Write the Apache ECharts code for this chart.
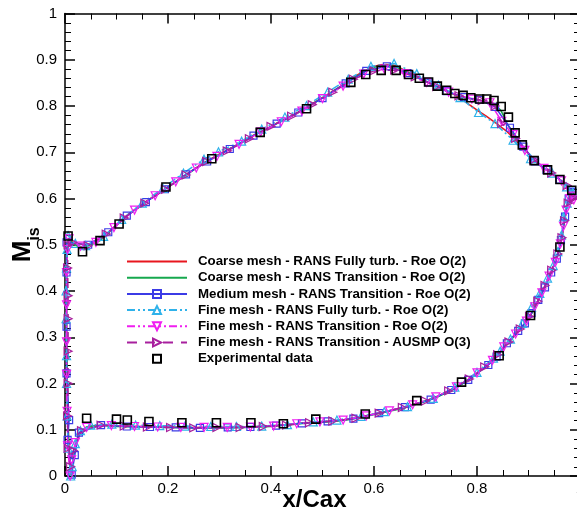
<!DOCTYPE html>
<html><head><meta charset="utf-8">
<script src="https://cdn.jsdelivr.net/npm/echarts@6/dist/echarts.min.js"></script>
<style>html,body{margin:0;padding:0;background:#fff}#c{width:577px;height:518px}</style>
</head><body><div id="c"></div>
<script>
const seriesNames = [
  'Coarse mesh - RANS Fully turb. - Roe O(2)',
  'Coarse mesh - RANS Transition - Roe O(2)',
  'Medium mesh - RANS Transition - Roe O(2)',
  'Fine mesh - RANS Fully turb. - Roe O(2)',
  'Fine mesh - RANS Transition - Roe O(2)',
  'Fine mesh - RANS Transition - AUSMP O(3)',
  'Experimental data'
];
const xTicks = [0, 0.2, 0.4, 0.6, 0.8, 1];
const yTicks = [0, 0.1, 0.2, 0.3, 0.4, 0.5, 0.6, 0.7, 0.8, 0.9, 1];

const coarseFullyTurb = [
[0.986,0.615],[0.981,0.607],[0.975,0.588],[0.971,0.560],[0.966,0.526],[0.961,0.497],[0.953,0.468],[0.945,0.443],[0.937,0.423],[0.928,0.401],[0.918,0.378],[0.906,0.352],[0.893,0.330],[0.880,0.313],[0.865,0.294],[0.850,0.275],[0.835,0.256],[0.820,0.240],[0.800,0.222],[0.783,0.208],[0.760,0.192],[0.740,0.181],[0.720,0.170],[0.696,0.161],[0.670,0.152],[0.650,0.146],[0.625,0.140],[0.605,0.135],[0.580,0.129],[0.553,0.123],[0.530,0.120],[0.508,0.118],[0.480,0.116],[0.456,0.114],[0.430,0.111],[0.400,0.108],[0.350,0.106],[0.300,0.105],[0.250,0.105],[0.200,0.106],[0.150,0.107],[0.100,0.108],[0.070,0.110],[0.050,0.108],[0.042,0.106],[0.034,0.100],[0.027,0.092],[0.022,0.075],[0.018,0.050],[0.015,0.025],[0.012,0.000],
[0.009,0.040],[0.007,0.080],[0.005,0.150],[0.004,0.220],[0.003,0.300],[0.003,0.380],[0.003,0.440],[0.004,0.480],[0.006,0.512],
[0.010,0.510],[0.018,0.502],[0.029,0.495],[0.040,0.497],[0.055,0.503],[0.068,0.510],[0.085,0.527],[0.104,0.547],[0.120,0.563],[0.140,0.580],[0.157,0.593],[0.175,0.607],[0.194,0.621],[0.220,0.640],[0.245,0.659],[0.269,0.677],[0.295,0.693],[0.320,0.708],[0.345,0.723],[0.366,0.737],[0.390,0.750],[0.411,0.763],[0.432,0.774],[0.453,0.787],[0.470,0.798],[0.489,0.811],[0.510,0.825],[0.534,0.842],[0.550,0.854],[0.566,0.866],[0.583,0.877],[0.599,0.885],[0.612,0.889],[0.625,0.890],[0.638,0.888],[0.650,0.883],[0.663,0.875],[0.676,0.867],[0.690,0.859],[0.706,0.851],[0.723,0.842],[0.741,0.832],[0.755,0.825],[0.767,0.817],[0.785,0.803],[0.803,0.789],[0.818,0.778],[0.832,0.767],[0.845,0.756],[0.858,0.745],[0.868,0.734],[0.877,0.724],[0.890,0.710],[0.902,0.694],[0.913,0.680],[0.924,0.670],[0.935,0.662],[0.948,0.652],[0.961,0.641],[0.973,0.630],[0.984,0.617],[0.988,0.610]
];

const coarseTransition = [
[0.986,0.613],[0.981,0.605],[0.975,0.586],[0.971,0.559],[0.966,0.524],[0.961,0.495],[0.953,0.466],[0.945,0.442],[0.937,0.421],[0.928,0.400],[0.918,0.377],[0.906,0.351],[0.893,0.329],[0.880,0.312],[0.865,0.293],[0.850,0.274],[0.835,0.255],[0.820,0.239],[0.800,0.221],[0.783,0.207],[0.760,0.191],[0.740,0.180],[0.720,0.169],[0.696,0.160],[0.670,0.151],[0.650,0.145],[0.625,0.139],[0.605,0.134],[0.580,0.128],[0.553,0.122],[0.530,0.119],[0.508,0.117],[0.480,0.115],[0.456,0.113],[0.430,0.110],[0.400,0.107],[0.350,0.105],[0.300,0.104],[0.250,0.104],[0.200,0.105],[0.150,0.106],[0.100,0.107],[0.070,0.109],[0.050,0.107],[0.042,0.105],[0.034,0.099],[0.027,0.091],[0.022,0.074],[0.018,0.049],[0.015,0.024],[0.012,0.000],
[0.009,0.040],[0.007,0.080],[0.005,0.150],[0.004,0.220],[0.003,0.300],[0.003,0.380],[0.003,0.440],[0.004,0.480],[0.006,0.512],
[0.010,0.509],[0.018,0.501],[0.029,0.494],[0.040,0.496],[0.055,0.502],[0.068,0.509],[0.085,0.526],[0.104,0.546],[0.120,0.562],[0.140,0.579],[0.157,0.592],[0.175,0.606],[0.194,0.620],[0.220,0.639],[0.245,0.658],[0.269,0.676],[0.295,0.692],[0.320,0.707],[0.345,0.722],[0.366,0.736],[0.390,0.749],[0.411,0.762],[0.432,0.773],[0.453,0.786],[0.470,0.797],[0.489,0.810],[0.510,0.824],[0.534,0.841],[0.550,0.852],[0.566,0.864],[0.583,0.875],[0.599,0.883],[0.612,0.887],[0.625,0.888],[0.638,0.886],[0.650,0.881],[0.663,0.874],[0.676,0.866],[0.690,0.858],[0.706,0.850],[0.723,0.841],[0.741,0.832],[0.755,0.826],[0.767,0.821],[0.785,0.816],[0.800,0.813],[0.815,0.810],[0.828,0.806],[0.838,0.800],[0.846,0.791],[0.852,0.778],[0.858,0.763],[0.867,0.745],[0.876,0.730],[0.883,0.720],[0.890,0.711],[0.902,0.694],[0.913,0.680],[0.924,0.670],[0.935,0.662],[0.948,0.652],[0.961,0.641],[0.973,0.630],[0.984,0.616],[0.988,0.609]
];

const mediumTransition = [
[0.985,0.614],[0.978,0.600],[0.971,0.561],[0.963,0.510],[0.955,0.470],[0.944,0.440],[0.932,0.408],[0.919,0.381],[0.906,0.352],[0.893,0.330],[0.880,0.314],[0.858,0.287],[0.838,0.258],[0.822,0.240],[0.783,0.208],[0.750,0.186],[0.710,0.165],[0.660,0.149],[0.610,0.136],[0.560,0.124],[0.510,0.118],[0.460,0.114],[0.410,0.109],[0.360,0.106],[0.316,0.105],[0.262,0.104],[0.215,0.105],[0.165,0.106],[0.120,0.107],[0.070,0.110],[0.027,0.094],[0.019,0.045],[0.013,0.003],
[0.005,0.078],[0.008,0.121],[0.003,0.222],[0.003,0.323],[0.003,0.440],[0.003,0.505],
[0.045,0.500],[0.084,0.527],[0.120,0.563],[0.157,0.592],[0.194,0.620],[0.235,0.652],[0.276,0.680],[0.320,0.707],[0.366,0.736],[0.411,0.762],[0.453,0.786],[0.500,0.817],[0.545,0.849],[0.585,0.876],[0.625,0.886],[0.665,0.871],[0.706,0.851],[0.741,0.832],[0.775,0.819],[0.805,0.813],[0.835,0.798],[0.864,0.753],[0.890,0.712],[0.913,0.680],[0.935,0.662],[0.961,0.641],[0.984,0.615]
];

const fineFullyTurb = [
[0.986,0.612],[0.975,0.590],[0.968,0.560],[0.964,0.521],[0.957,0.485],[0.948,0.455],[0.937,0.428],[0.922,0.395],[0.906,0.365],[0.888,0.330],[0.865,0.296],[0.845,0.270],[0.832,0.255],[0.800,0.224],[0.757,0.192],[0.715,0.168],[0.665,0.150],[0.620,0.139],[0.575,0.129],[0.528,0.121],[0.482,0.117],[0.432,0.111],[0.382,0.108],[0.333,0.107],[0.283,0.107],[0.233,0.108],[0.184,0.109],[0.137,0.110],[0.091,0.112],[0.050,0.110],[0.030,0.098],[0.020,0.070],[0.014,0.020],[0.011,0.000],
[0.006,0.060],[0.004,0.130],[0.003,0.200],[0.003,0.260],[0.002,0.340],[0.002,0.400],[0.003,0.450],[0.004,0.490],[0.006,0.520],
[0.020,0.503],[0.040,0.498],[0.075,0.518],[0.110,0.555],[0.150,0.590],[0.190,0.622],[0.230,0.655],[0.270,0.685],[0.298,0.701],[0.343,0.724],[0.382,0.750],[0.427,0.776],[0.469,0.801],[0.510,0.830],[0.550,0.858],[0.594,0.886],[0.639,0.892],[0.683,0.870],[0.725,0.845],[0.767,0.818],[0.803,0.786],[0.835,0.762],[0.870,0.726],[0.904,0.686],[0.946,0.655],[0.974,0.625],[0.986,0.612]
];

const fineTransitionRoe = [
[0.988,0.597],[0.980,0.600],[0.973,0.575],[0.968,0.540],[0.962,0.502],[0.952,0.462],[0.940,0.432],[0.926,0.396],[0.912,0.366],[0.896,0.335],[0.875,0.307],[0.852,0.279],[0.830,0.250],[0.800,0.223],[0.760,0.193],[0.720,0.171],[0.675,0.154],[0.630,0.141],[0.585,0.130],[0.540,0.121],[0.495,0.117],[0.450,0.113],[0.405,0.108],[0.360,0.106],[0.315,0.105],[0.270,0.105],[0.225,0.105],[0.180,0.106],[0.135,0.107],[0.090,0.109],[0.042,0.105],[0.020,0.072],[0.013,0.035],[0.010,0.000],
[0.005,0.065],[0.004,0.140],[0.003,0.220],[0.003,0.290],[0.003,0.370],[0.003,0.440],[0.005,0.490],[0.008,0.513],
[0.030,0.497],[0.060,0.505],[0.095,0.537],[0.135,0.575],[0.175,0.606],[0.215,0.636],[0.255,0.666],[0.295,0.691],[0.338,0.717],[0.380,0.744],[0.420,0.766],[0.460,0.789],[0.500,0.816],[0.540,0.843],[0.580,0.869],[0.620,0.880],[0.660,0.870],[0.702,0.851],[0.745,0.830],[0.790,0.815],[0.825,0.807],[0.848,0.767],[0.870,0.738],[0.893,0.704],[0.930,0.665],[0.964,0.638],[0.984,0.605]
];

const fineTransitionAusmp = [
[0.987,0.600],[0.977,0.590],[0.970,0.552],[0.965,0.515],[0.957,0.480],[0.945,0.445],[0.932,0.412],[0.918,0.378],[0.902,0.345],[0.884,0.318],[0.862,0.290],[0.840,0.262],[0.815,0.236],[0.785,0.210],[0.745,0.184],[0.700,0.162],[0.655,0.148],[0.610,0.136],[0.565,0.125],[0.520,0.119],[0.475,0.115],[0.430,0.110],[0.385,0.107],[0.340,0.105],[0.295,0.105],[0.250,0.104],[0.205,0.105],[0.160,0.106],[0.115,0.108],[0.070,0.110],[0.032,0.098],[0.016,0.055],[0.011,0.020],
[0.006,0.060],[0.005,0.130],[0.006,0.200],[0.006,0.270],[0.006,0.340],[0.006,0.390],[0.005,0.450],[0.006,0.500],
[0.015,0.505],[0.045,0.498],[0.080,0.523],[0.115,0.558],[0.155,0.590],[0.195,0.620],[0.235,0.651],[0.275,0.680],[0.315,0.703],[0.358,0.729],[0.400,0.756],[0.440,0.778],[0.480,0.803],[0.520,0.830],[0.560,0.858],[0.600,0.876],[0.640,0.878],[0.680,0.863],[0.722,0.842],[0.765,0.822],[0.810,0.812],[0.835,0.800],[0.848,0.762],[0.875,0.730],[0.910,0.684],[0.945,0.655],[0.975,0.628],[0.988,0.603]
];

const experimental = [
[0.006,0.519],[0.034,0.485],[0.068,0.509],[0.105,0.545],[0.196,0.625],[0.285,0.686],[0.379,0.743],[0.469,0.794],[0.555,0.851],[0.584,0.868],[0.614,0.877],[0.643,0.877],[0.667,0.868],[0.688,0.860],[0.706,0.852],[0.723,0.843],[0.741,0.834],[0.757,0.827],[0.773,0.823],[0.788,0.818],[0.805,0.815],[0.819,0.815],[0.833,0.812],[0.847,0.799],[0.861,0.776],[0.874,0.742],[0.888,0.716],[0.911,0.682],[0.937,0.662],[0.961,0.641],[0.984,0.618],
[0.961,0.495],[0.904,0.347],[0.843,0.260],[0.770,0.203],[0.683,0.163],[0.583,0.134],[0.487,0.123],[0.424,0.113],[0.361,0.115],[0.294,0.115],[0.227,0.115],[0.163,0.118],[0.121,0.121],[0.100,0.123],[0.042,0.125]
];

const FONT = 'Liberation Sans, Arial, Helvetica, sans-serif';
const chart = echarts.init(document.getElementById('c'), null, {renderer: 'canvas'});

function lineSeries(name, data, color, opts) {
  opts = opts || {};
  return {
    name: name, type: 'line', data: data,
    symbol: opts.symbol || 'none',
    symbolSize: opts.size || 7,
    symbolRotate: opts.rotate || 0,
    showSymbol: !!opts.symbol,
    lineStyle: {color: color, width: opts.width || 1.5, type: opts.dash || 'solid', opacity: opts.lineOpacity == null ? 1 : opts.lineOpacity},
    itemStyle: {color: 'rgba(255,255,255,0)', borderColor: color, borderWidth: opts.bw || 1.2},
    emphasis: {disabled: true},
    animation: false,
    z: opts.z || 2
  };
}

const axisCommonX = {
  type: 'value', min: 0, max: 1, interval: 0.2,
  axisLine: {show: true, onZero: false, lineStyle: {color: '#000', width: 1.5}},
  axisTick: {show: true, inside: true, length: 10, lineStyle: {color: '#000', width: 1.5}},
  minorTick: {show: true, splitNumber: 4, length: 6, lineStyle: {color: '#000', width: 1}},
  splitLine: {show: false}
};
const axisCommonY = {
  type: 'value', min: 0, max: 1, interval: 0.1,
  axisLine: {show: true, onZero: false, lineStyle: {color: '#000', width: 1.5}},
  axisTick: {show: true, inside: true, length: 10, lineStyle: {color: '#000', width: 1.5}},
  minorTick: {show: true, splitNumber: 5, length: 6, lineStyle: {color: '#000', width: 1}},
  splitLine: {show: false}
};

const option = {
  backgroundColor: '#fff',
  animation: false,
  grid: {left: 65, top: 13.5, width: 515, height: 462.5, containLabel: false, outerBoundsMode: 'none'},
  xAxis: [
    Object.assign({}, axisCommonX, {
      position: 'bottom',
      axisLabel: {color: '#000', fontSize: 15, fontFamily: FONT, margin: 5},
      name: 'x/Cax', nameLocation: 'middle', nameGap: 12, nameMoveOverlap: false,
      nameTextStyle: {color: '#000', fontSize: 24, fontWeight: 'bold', fontFamily: FONT, padding: [0, 16, 0, 0]}
    }),
    Object.assign({}, axisCommonX, {position: 'top', axisLabel: {show: false}})
  ],
  yAxis: [
    Object.assign({}, axisCommonY, {
      position: 'left',
      axisLabel: {color: '#000', fontSize: 15, fontFamily: FONT, margin: 8},
      name: '{m|M}{s|is}', nameLocation: 'middle', nameGap: 29, nameRotate: 90, nameMoveOverlap: false,
      nameTextStyle: {
        rich: {
          m: {fontSize: 26, fontWeight: 'bold', color: '#000', fontFamily: FONT, lineHeight: 26, verticalAlign: 'top'},
          s: {fontSize: 16, fontWeight: 'bold', color: '#000', fontFamily: FONT, lineHeight: 16, verticalAlign: 'top', padding: [17, 0, 0, 0]}
        }
      }
    }),
    Object.assign({}, axisCommonY, {position: 'right', axisLabel: {show: false}})
  ],
  legend: {
    orient: 'vertical', left: 126, top: 255, padding: 0,
    itemWidth: 60, itemHeight: 10, itemGap: 3.2,
    selectedMode: false,
    textStyle: {color: '#000', fontSize: 13.3, fontWeight: 'bold', fontFamily: FONT, padding: [0, 0, 0, 6]},
    data: [
      {name: seriesNames[0], itemStyle: {opacity: 0}},
      {name: seriesNames[1], itemStyle: {opacity: 0}},
      {name: seriesNames[2]},
      {name: seriesNames[3]},
      {name: seriesNames[4]},
      {name: seriesNames[5]},
      {name: seriesNames[6]}
    ]
  },
  series: [
    lineSeries(seriesNames[0], coarseFullyTurb, '#e8161e', {width: 1.5}),
    lineSeries(seriesNames[1], coarseTransition, '#16a84e', {width: 1.5}),
    lineSeries(seriesNames[2], mediumTransition, '#3b3be6', {symbol: 'rect', size: 7, width: 1.5}),
    lineSeries(seriesNames[3], fineFullyTurb, '#2fb2ea', {symbol: 'triangle', size: 8, dash: [8, 3, 2, 3, 2, 3]}),
    lineSeries(seriesNames[4], fineTransitionRoe, '#f01ef0', {symbol: 'triangle', size: 8, rotate: 180, dash: [8, 3, 2, 3, 2, 3]}),
    lineSeries(seriesNames[5], fineTransitionAusmp, '#a8209e', {symbol: 'triangle', size: 8, rotate: -90, dash: [10, 8]}),
    lineSeries(seriesNames[6], experimental, '#000000', {symbol: 'rect', size: 8, bw: 1.6, lineOpacity: 0, z: 5})
  ]
};
chart.setOption(option);
</script>
</body></html>
